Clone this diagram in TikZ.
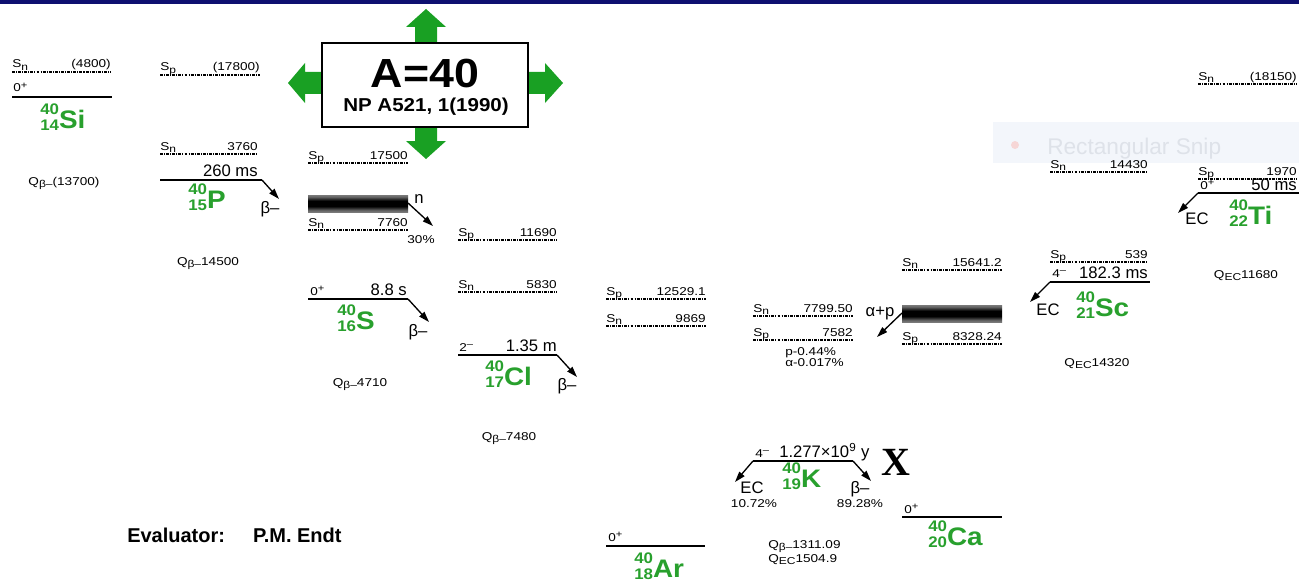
\documentclass[tikz,border=0pt]{standalone}
\usepackage{fontspec}
\setmainfont{Liberation Sans}
\newfontfamily\widesf[FakeStretch=1.2]{Liberation Sans}
\newfontfamily\nucsf[FakeStretch=1.1]{Liberation Sans}
\newfontfamily\xserif{Liberation Serif}
\usetikzlibrary{arrows.meta}

\definecolor{nucgreen}{RGB}{40,160,45}
\definecolor{arrowgreen}{RGB}{25,160,35}
\definecolor{navy}{RGB}{14,16,112}
\definecolor{snipbg}{RGB}{243,246,251}
\definecolor{sniptext}{RGB}{222,226,233}
\definecolor{snipdot}{RGB}{246,214,214}

% broad level band: dark core fading to grey at the edges
\pgfdeclareverticalshading{barshade}{100bp}{color(0bp)=(gray!30); color(30bp)=(gray!80!black); color(42bp)=(black); color(58bp)=(black); color(70bp)=(gray!80!black); color(100bp)=(gray!30)}

\tikzset{
  small/.style={font=\widesf\fontsize{8.5}{9}\selectfont, inner sep=0pt},
  mid/.style={font=\fontsize{12.5}{13}\selectfont, inner sep=0pt},
  nuc/.style={inner sep=0pt},
  xlab/.style={font=\xserif\bfseries\fontsize{30}{30}\selectfont, inner sep=0pt},
  sepl/.style={line width=0.9pt, dash pattern=on 2.2pt off 0.8pt on 0.8pt off 0.8pt},
  lvl/.style={line width=1.9pt},
  dec/.style={line width=1pt, -{Triangle[length=8pt,width=5pt]}},
  greenarrow/.style={fill=arrowgreen, draw=none},
}

% lowered and raised small indices for the label font
\newcommand{\lowidx}[1]{\raisebox{-1.7pt}{\fontsize{7.5}{8}\selectfont #1}}
\newcommand{\spin}[2]{#1\raisebox{2.6pt}{\fontsize{7}{7}\selectfont #2}}
% nuclide symbol: mass number over charge number, then the element
\newcommand{\nucl}[3]{\textcolor{nucgreen}{\nucsf\bfseries\raisebox{-1.8pt}{\fontsize{11.5}{12}\selectfont\begin{tabular}[b]{@{}r@{}}#1\\#2\end{tabular}}\fontsize{19}{19}\selectfont#3}}

% separation-energy line: name, x-left, x-right, y, subscript, value
\newcommand{\sepline}[6]{%
  \coordinate (#1L) at (#2,#4);
  \coordinate (#1R) at (#3,#4);
  \draw[sepl] (#1L) -- (#1R);
  \node[small, anchor=base west] (#1S) at ([yshift=3pt]#1L) {S\lowidx{#5}};
  \node[small, anchor=base east] (#1V) at ([yshift=3pt]#1R) {#6};
}
% ground-state level: name, x-left, x-right, y
\newcommand{\levelline}[4]{%
  \coordinate (#1L) at (#2,#4);
  \coordinate (#1R) at (#3,#4);
  \draw[lvl] (#1L) -- (#1R);
}

\begin{document}
\begin{tikzpicture}[x=0.75pt, y=-0.75pt]
\useasboundingbox (0,0) rectangle (1299,585);
\fill[white] (0,0) rectangle (1299,585);
\fill[navy] (0,0) rectangle (1299,4);

% snipping-tool banner
\fill[snipbg] (993,122) rectangle (1299,163);
\fill[snipdot] (1015,145) circle (4);
\node[font=\fontsize{17}{17}\selectfont, text=sniptext, anchor=base west, inner sep=0pt] (snip) at (1047,154) {Rectangular Snip};

% title box with the four green arrows
\fill[greenarrow] (415,44) -- (415,27) -- (406,27) -- (426,9) -- (446,27) -- (437,27) -- (437,44) -- cycle;
\fill[greenarrow] (415,126) -- (415,141) -- (406,141) -- (426,159) -- (446,141) -- (437,141) -- (437,126) -- cycle;
\fill[greenarrow] (323,72) -- (305,72) -- (305,63) -- (288,83) -- (305,103) -- (305,94) -- (323,94) -- cycle;
\fill[greenarrow] (527,72) -- (545,72) -- (545,63) -- (563,83) -- (545,103) -- (545,94) -- (527,94) -- cycle;
\node[draw, line width=1.5pt, fill=white, minimum width=154.5pt, minimum height=63pt, inner sep=0pt] (box) at (425,85) {};
\node[font=\nucsf\bfseries\fontsize{30.5}{31}\selectfont, anchor=base, inner sep=0pt] (title) at (425,88) {A=40};
\node[font=\nucsf\bfseries\fontsize{14}{14}\selectfont, anchor=base, inner sep=0pt] (ref) at (426,112) {NP A521, 1(1990)};

% 40Si
\sepline{SiSn}{12}{111}{72}{n}{(4800)}
\node[small, anchor=base west] (SiJ) at (13,92) {\spin{0}{+}};
\levelline{SiG}{12}{112}{97}
\node[nuc, anchor=base west] (Si) at (40,128) {\nucl{40}{14}{Si}};
\node[small, anchor=base] (SiQ) at (64,185) {Q\lowidx{β–}(13700)};

% 40P
\sepline{PSp}{160}{260}{75}{p}{(17800)}
\sepline{PSn}{160}{258}{154}{n}{3760}
\node[mid, anchor=base east] (PT) at (258,176) {260 ms};
\levelline{PG}{160}{262}{180}
\coordinate (Ptip) at (279,199);
\draw[dec] (PGR) -- (Ptip);
\node[mid, anchor=base] (Pb) at (270,213) {β–};
\node[nuc, anchor=base west] (P) at (188,208) {\nucl{40}{15}{P}};
\node[small, anchor=base] (PQ) at (208,265) {Q\lowidx{β–}14500};

% 40S
\sepline{SSp}{308}{408}{163}{p}{17500}
\shade[shading=barshade] (308,195) rectangle (408,212);
\coordinate (Sbarend) at (408,203);
\node[mid, anchor=base west] (Sn) at (414,203) {n};
\coordinate (Sntip) at (433,226);
\draw[dec] (Sbarend) -- (Sntip);
\sepline{SSn}{308}{408}{230}{n}{7760}
\node[small, anchor=base] (Spct) at (421,243) {30\%};
\node[small, anchor=base west] (SJ) at (310,295) {\spin{0}{+}};
\node[mid, anchor=base east] (ST) at (407,295) {8.8 s};
\levelline{SG}{308}{408}{299}
\coordinate (Stip) at (429,322);
\draw[dec] (SGR) -- (Stip);
\node[mid, anchor=base] (Sb) at (418,336) {β–};
\node[nuc, anchor=base west] (S) at (337,329) {\nucl{40}{16}{S}};
\node[small, anchor=base] (SQ) at (360,386) {Q\lowidx{β–}4710};

% 40Cl
\sepline{ClSp}{458}{557}{240}{p}{11690}
\sepline{ClSn}{458}{557}{292}{n}{5830}
\node[small, anchor=base west] (ClJ) at (459,351) {\spin{2}{–}};
\node[mid, anchor=base east] (ClT) at (557,351) {1.35 m};
\levelline{ClG}{458}{557}{355}
\coordinate (Cltip) at (577,377);
\draw[dec] (ClGR) -- (Cltip);
\node[mid, anchor=base] (Clb) at (567,390) {β–};
\node[nuc, anchor=base west] (Cl) at (485,385) {\nucl{40}{17}{Cl}};
\node[small, anchor=base] (ClQ) at (509,440) {Q\lowidx{β–}7480};

% 40Ar
\sepline{ArSp}{606}{706}{299}{p}{12529.1}
\sepline{ArSn}{606}{706}{326}{n}{9869}
\node[small, anchor=base west] (ArJ) at (608,541) {\spin{0}{+}};
\levelline{ArG}{606}{705}{546}
\node[nuc, anchor=base west] (Ar) at (634,577) {\nucl{40}{18}{Ar}};

% 40K
\sepline{KSn}{753}{853}{316}{n}{7799.50}
\sepline{KSp}{753}{853}{340}{p}{7582}
\node[small, anchor=base west] (Kp) at (785,355) {p-0.44\%};
\node[small, anchor=base west] (Ka) at (785,366) {α-0.017\%};
\node[small, anchor=base west] (KJ) at (755,457) {\spin{4}{–}};
\node[mid, anchor=base west] (KT) at (779,457) {1.277×10\textsuperscript{9} y};
\levelline{KG}{753}{853}{461}
\coordinate (KtipL) at (735,482);
\coordinate (KtipR) at (871,481);
\draw[dec] (KGL) -- (KtipL);
\draw[dec] (KGR) -- (KtipR);
\node[mid, anchor=base] (KEC) at (752,493) {EC};
\node[small, anchor=base] (KECp) at (754,507) {10.72\%};
\node[nuc, anchor=base west] (K) at (782,487) {\nucl{40}{19}{K}};
\node[mid, anchor=base] (Kb) at (860,493) {β–};
\node[small, anchor=base] (Kbp) at (860,507) {89.28\%};
\node[small, anchor=base west] (KQb) at (768,548) {Q\lowidx{β–}1311.09};
\node[small, anchor=base west] (KQe) at (768,562) {Q\lowidx{EC}1504.9};
\node[xlab, anchor=base west] (X) at (881,475) {X};

% 40Ca
\sepline{CaSn}{902}{1002}{270}{n}{15641.2}
\shade[shading=barshade] (902,305) rectangle (1002,322);
\coordinate (Cabarend) at (902,313);
\node[mid, anchor=base] (Caap) at (880,316) {α+p};
\coordinate (Catip) at (877,337);
\draw[dec] (Cabarend) -- (Catip);
\sepline{CaSp}{902}{1002}{344}{p}{8328.24}
\node[small, anchor=base west] (CaJ) at (904,513) {\spin{0}{+}};
\levelline{CaG}{902}{1002}{517}
\node[nuc, anchor=base west] (Ca) at (928,545) {\nucl{40}{20}{Ca}};

% 40Sc
\sepline{ScSn}{1050}{1148}{172}{n}{14430}
\sepline{ScSp}{1050}{1148}{262}{p}{539}
\node[small, anchor=base west] (ScJ) at (1052,277) {\spin{4}{–}};
\node[mid, anchor=base east] (ScT) at (1148,278) {182.3 ms};
\levelline{ScG}{1050}{1150}{282}
\coordinate (Sctip) at (1030,302);
\draw[dec] (ScGL) -- (Sctip);
\node[mid, anchor=base] (ScEC) at (1048,315) {EC};
\node[nuc, anchor=base west] (Sc) at (1076,316) {\nucl{40}{21}{Sc}};
\node[small, anchor=base] (ScQ) at (1097,366) {Q\lowidx{EC}14320};

% 40Ti
\sepline{TiSn}{1198}{1297}{84}{n}{(18150)}
\sepline{TiSp}{1198}{1297}{179}{p}{1970}
\node[small, anchor=base west] (TiJ) at (1200,189) {\spin{0}{+}};
\node[mid, anchor=base east] (TiT) at (1297,190) {50 ms};
\levelline{TiG}{1198}{1299}{193}
\coordinate (Titip) at (1178,213);
\draw[dec] (TiGL) -- (Titip);
\node[mid, anchor=base] (TiEC) at (1197,224) {EC};
\node[nuc, anchor=base west] (Ti) at (1229,224) {\nucl{40}{22}{Ti}};
\node[small, anchor=base] (TiQ) at (1246,278) {Q\lowidx{EC}11680};

% evaluator
\node[font=\bfseries\fontsize{15}{15}\selectfont, anchor=base west, inner sep=0pt] (eval) at (127,542) {Evaluator:\hspace{1.4em}P.M. Endt};
\end{tikzpicture}
\end{document}
